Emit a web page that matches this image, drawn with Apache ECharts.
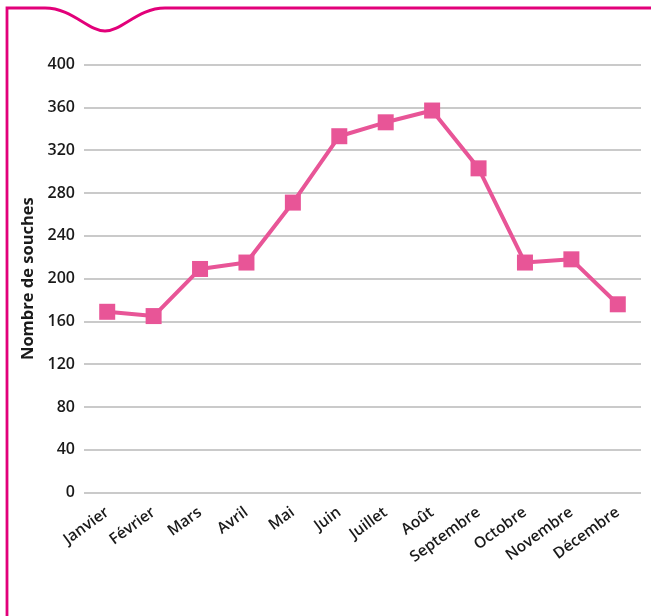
<!DOCTYPE html>
<html><head><meta charset="utf-8">
<script src="https://cdn.jsdelivr.net/npm/echarts@6/dist/echarts.min.js"></script>
<style>html,body{margin:0;padding:0;background:#fff}#c{width:651px;height:616px}</style>
</head><body><div id="c"></div>
<script>
const months = ['Janvier','Février','Mars','Avril','Mai','Juin','Juillet','Août','Septembre','Octobre','Novembre','Décembre'];
const souches = [169,165,209,215,271,333,346,357,303,215,218,176];
const yTicks = {min:0, max:400, interval:40};
const frameStyle = {fill:null, stroke:'#e2007a', lineWidth:2.8};
const chart = echarts.init(document.getElementById('c'));
chart.setOption({
  animation:false,
  textStyle:{fontFamily:'Open Sans'},
  graphic:[
    {type:'polyline',shape:{points:[[7,620],[7,8],[45,8]]},style:frameStyle},
    {type:'bezierCurve',shape:{x1:45,y1:8,cpx1:72,cpy1:8,cpx2:88,cpy2:31,x2:105,y2:31},style:frameStyle},
    {type:'bezierCurve',shape:{x1:105,y1:31,cpx1:122,cpy1:31,cpx2:138,cpy2:8,x2:165,y2:8},style:frameStyle},
    {type:'line',shape:{x1:165,y1:8,x2:655,y2:8},style:frameStyle}
  ],
  grid:{left:84,right:10,top:64.5,bottom:123.3},
  xAxis:{type:'category',data:months,boundaryGap:true,
    axisLine:{show:false},axisTick:{show:false},
    axisLabel:{rotate:36,margin:18,fontSize:15.5,fontWeight:600,color:'#1a1a1a',fontFamily:'Open Sans',interval:0}},
  yAxis:{type:'value',min:yTicks.min,max:yTicks.max,interval:yTicks.interval,
    name:'Nombre de souches',nameLocation:'middle',nameGap:44,
    nameTextStyle:{fontSize:16.5,fontWeight:'bold',color:'#1a1a1a',fontFamily:'Open Sans'},
    axisLine:{show:false},axisTick:{show:false},
    axisLabel:{fontSize:16,fontWeight:600,color:'#1a1a1a',margin:9,fontFamily:'Open Sans'},
    splitLine:{lineStyle:{color:'#b8b8b8',width:1.5}}},
  series:[{type:'line',data:souches,symbol:'rect',symbolSize:16,
    lineStyle:{color:'#e85597',width:4},itemStyle:{color:'#e85597'}}]
});
</script></body></html>
